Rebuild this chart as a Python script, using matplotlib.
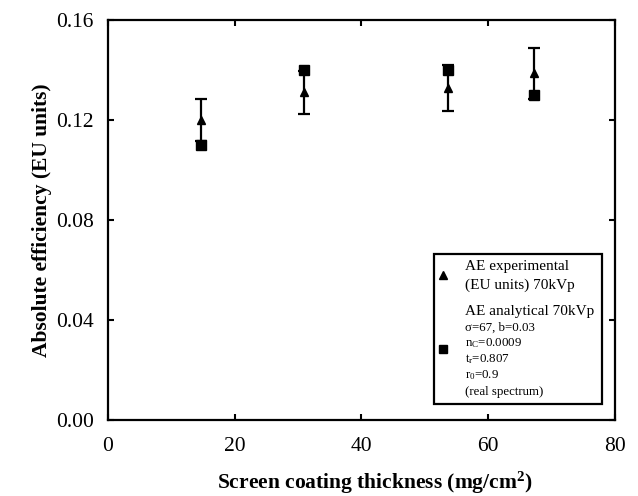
import matplotlib
matplotlib.use("Agg")
import matplotlib.pyplot as plt
from matplotlib.patches import Rectangle

plt.rcParams['font.family'] = ['Liberation Serif', 'DejaVu Serif']
plt.rcParams['mathtext.fontset'] = 'custom'
plt.rcParams['mathtext.rm'] = 'Liberation Serif'
plt.rcParams['mathtext.bf'] = 'Liberation Serif:bold'
plt.rcParams['mathtext.it'] = 'Liberation Serif:italic'

# data
thickness = [14.7, 31.0, 53.7, 67.2]
ae_experimental = [0.120, 0.131, 0.1327, 0.1387]
ae_err = [0.0085, 0.0087, 0.0093, 0.0102]
ae_analytical = [0.110, 0.140, 0.140, 0.130]

fig = plt.figure(figsize=(6.38, 4.96), dpi=100)
ax = fig.add_axes([0.1688, 0.1532, 0.7952, 0.8065])

ax.errorbar(thickness, ae_experimental, yerr=ae_err, fmt='^', color='black',
            markersize=6, elinewidth=1.6, capsize=4, capthick=1.6, zorder=3)
ax.plot(thickness, ae_analytical, 's', color='black', markersize=6.5, zorder=4)

ax.set_xlim(0, 80)
ax.set_ylim(0, 0.16)
ax.set_xticks([0, 20, 40, 60, 80])
ax.set_yticks([0.0, 0.04, 0.08, 0.12, 0.16])
ax.set_yticklabels(['0.00', '0.04', '0.08', '0.12', '0.16'])
ax.tick_params(direction='in', length=4, width=1.5, top=True, right=True,
               labelsize=15.5)
ax.tick_params(axis='x', pad=12)
ax.tick_params(axis='y', pad=10)
for s in ax.spines.values():
    s.set_linewidth(1.6)

ax.set_xlabel(r'Screen coating thickness (mg/cm$^\mathbf{2}$)', fontsize=15.5,
              fontweight='bold')
ax.xaxis.set_label_coords(0.527, -0.124)
ax.set_ylabel('Absolute efficiency (EU units)', fontsize=15.5,
              fontweight='bold', labelpad=3)

# legend box drawn by hand (mixed font sizes)
box = Rectangle((0.643, 0.04), 0.3315, 0.375, transform=ax.transAxes,
                fill=True, facecolor='white', edgecolor='black', lw=1.6, zorder=5)
ax.add_patch(box)
ax.plot([0.6616], [0.3625], '^', color='black', markersize=5.5,
        transform=ax.transAxes, clip_on=False, zorder=6)
ax.plot([0.6616], [0.1775], 's', color='black', markersize=5.5,
        transform=ax.transAxes, clip_on=False, zorder=6)

tx = 0.704
ax.text(tx, 0.385, 'AE experimental', transform=ax.transAxes, fontsize=11,
        va='center', zorder=6)
ax.text(tx, 0.3375, '(EU units) 70kVp', transform=ax.transAxes, fontsize=11,
        va='center', zorder=6)
ax.text(tx, 0.2708, 'AE analytical 70kVp', transform=ax.transAxes, fontsize=11,
        va='center', zorder=6)
small_lines = [r'σ=67, b=0.03', r'n$_\mathrm{C}$=0.0009', r't$_\mathrm{r}$=0.807',
               r'r$_\mathrm{0}$=0.9', '(real spectrum)']
small_y = [0.2308, 0.192, 0.152, 0.1125, 0.071]
for s, y in zip(small_lines, small_y):
    ax.text(tx, y, s, transform=ax.transAxes, fontsize=9.3, va='center', zorder=6)

fig.savefig('out.png', dpi=100)
